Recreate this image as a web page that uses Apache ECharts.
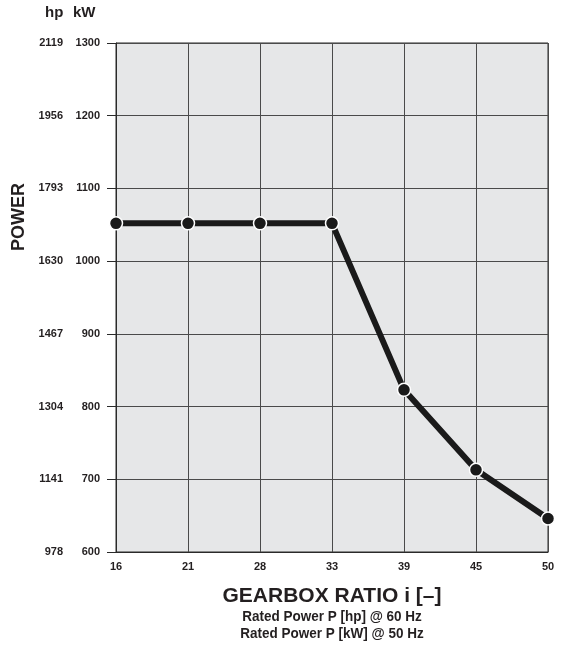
<!DOCTYPE html>
<html>
<head>
<meta charset="utf-8">
<script src="https://cdn.jsdelivr.net/npm/echarts@6/dist/echarts.min.js"></script>
<style>
  html, body { margin: 0; padding: 0; background: #fff; }
  #chart { width: 565px; height: 646px; }
</style>
</head>
<body>
<div id="chart"></div>
<script>
var ratios = ['16', '21', '28', '33', '39', '45', '50'];
var powerKw = [1052, 1052, 1052, 1052, 823, 713, 646];
var kwTicks = [600, 700, 800, 900, 1000, 1100, 1200, 1300];
var hpTicks = ['978', '1141', '1304', '1467', '1630', '1793', '1956', '2119'];

var sans = '"Liberation Sans", Arial, sans-serif';
var myChart = echarts.init(document.getElementById('chart'));

var option = {
  backgroundColor: '#fff',
  animation: false,
  grid: { left: 116, right: 17, top: 43, bottom: 94, show: true, backgroundColor: '#e6e7e8', borderColor: '#2a2a2a', borderWidth: 1 },
  graphic: [
    { type: 'text', left: 45, top: 5, style: { text: 'hp', font: 'bold 15px ' + sans, fill: '#231f20' } },
    { type: 'text', left: 73, top: 5, style: { text: 'kW', font: 'bold 15px ' + sans, fill: '#231f20' } },
    { type: 'text', x: 19, y: 217, rotation: Math.PI / 2, style: { text: 'POWER', font: 'bold 18px ' + sans, fill: '#231f20', align: 'center', verticalAlign: 'middle' } },
    { type: 'text', x: 332, y: 596, style: { text: 'GEARBOX RATIO i [–]', font: 'bold 21px ' + sans, fill: '#231f20', align: 'center', verticalAlign: 'middle' } },
    // condensed look for the two sub lines
    { type: 'text', x: 332, y: 617, scaleX: 0.9, originX: 0, style: { text: 'Rated Power P [hp] @ 60 Hz', font: 'bold 15px ' + sans, fill: '#231f20', align: 'center', verticalAlign: 'middle' } },
    { type: 'text', x: 332, y: 634, scaleX: 0.9, originX: 0, style: { text: 'Rated Power P [kW] @ 50 Hz', font: 'bold 15px ' + sans, fill: '#231f20', align: 'center', verticalAlign: 'middle' } }
  ],
  xAxis: {
    type: 'category',
    data: ratios,
    boundaryGap: false,
    axisLine: { lineStyle: { color: '#2a2a2a', width: 1 } },
    axisTick: { show: false },
    axisLabel: { color: '#231f20', fontFamily: sans, fontWeight: 'bold', fontSize: 11, margin: 9 },
    splitLine: { show: true, lineStyle: { color: '#4a4a4a', width: 1 } }
  },
  yAxis: [
    {
      type: 'value',
      min: kwTicks[0],
      max: kwTicks[kwTicks.length - 1],
      interval: 100,
      axisLine: { show: true, lineStyle: { color: '#2a2a2a', width: 1 } },
      axisTick: { show: true, length: 9, lineStyle: { color: '#2a2a2a' } },
      axisLabel: {
        color: '#231f20', fontFamily: sans, fontWeight: 'bold', fontSize: 11, margin: 16,
        formatter: function (v) { return String(v); }
      },
      splitLine: { show: true, lineStyle: { color: '#4a4a4a', width: 1 } }
    },
    {
      type: 'value',
      position: 'left',
      offset: 37,
      min: kwTicks[0],
      max: kwTicks[kwTicks.length - 1],
      interval: 100,
      axisLine: { show: false },
      axisTick: { show: false },
      splitLine: { show: false },
      axisLabel: {
        color: '#231f20', fontFamily: sans, fontWeight: 'bold', fontSize: 11, margin: 16,
        formatter: function (v) { return hpTicks[kwTicks.indexOf(v)]; }
      }
    }
  ],
  series: [{
    type: 'line',
    data: powerKw,
    yAxisIndex: 0,
    symbol: 'circle',
    symbolSize: 13,
    lineStyle: { color: '#1a1a1a', width: 6 },
    itemStyle: { color: '#1a1a1a', borderColor: '#fff', borderWidth: 1.5 }
  }]
};
myChart.setOption(option);
</script>
</body>
</html>
